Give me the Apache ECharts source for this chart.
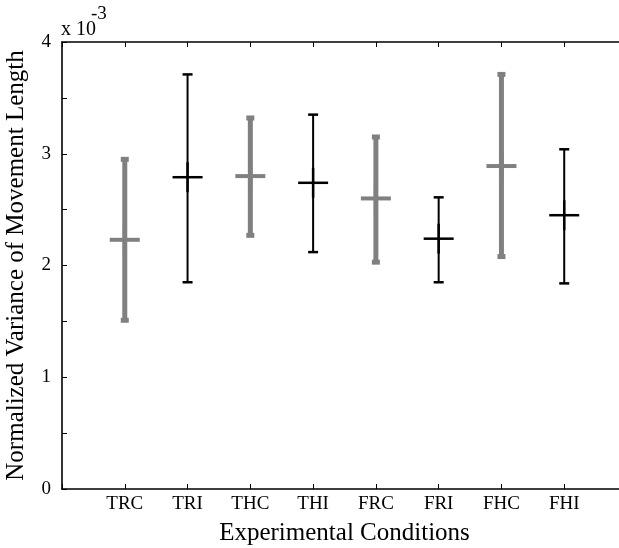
<!DOCTYPE html>
<html><head><meta charset="utf-8">
<script src="https://cdn.jsdelivr.net/npm/echarts@6/dist/echarts.min.js"></script>
<style>html,body{margin:0;padding:0;background:#fff}#c{width:619px;height:548px}</style>
</head><body><div id="c"></div>
<script>
var categories = ['TRC','TRI','THC','THI','FRC','FRI','FHC','FHI'];
var means = [2.23, 2.79, 2.80, 2.74, 2.60, 2.24, 2.89, 2.45];
var upper = [2.95, 3.71, 3.32, 3.35, 3.15, 2.61, 3.71, 3.04];
var lower = [1.51, 1.85, 2.27, 2.12, 2.03, 1.85, 2.08, 1.84];
var yTicks = [0, 1, 2, 3, 4];

var grayData = [], blackData = [];
categories.forEach(function(c, i){
  var row = [i + 1, means[i], lower[i], upper[i]];
  if (c.charAt(c.length - 1) === 'C') grayData.push(row); else blackData.push(row);
});

function makeRender(color, w, capHalf, capW, plusHalf, plusW){
  return function(params, api){
    var x = api.value(0);
    var pm = api.coord([x, api.value(1)]);
    var pl = api.coord([x, api.value(2)]);
    var ph = api.coord([x, api.value(3)]);
    return {type: 'group', children: [
      {type:'line', shape:{x1:pl[0], y1:pl[1], x2:ph[0], y2:ph[1]}, style:{stroke:color, lineWidth:w}},
      {type:'line', shape:{x1:pl[0]-capHalf, y1:pl[1], x2:pl[0]+capHalf, y2:pl[1]}, style:{stroke:color, lineWidth:capW}},
      {type:'line', shape:{x1:ph[0]-capHalf, y1:ph[1], x2:ph[0]+capHalf, y2:ph[1]}, style:{stroke:color, lineWidth:capW}},
      {type:'line', shape:{x1:pm[0]-plusHalf, y1:pm[1], x2:pm[0]+plusHalf, y2:pm[1]}, style:{stroke:color, lineWidth:plusW}},
      {type:'line', shape:{x1:pm[0], y1:pm[1]-plusHalf, x2:pm[0], y2:pm[1]+plusHalf}, style:{stroke:color, lineWidth:plusW}}
    ]};
  };
}

var font = 'Liberation Serif';
var chart = echarts.init(document.getElementById('c'), null, {renderer:'canvas'});
function axisCommon(){
  return {
    axisLine:{show:true, onZero:false, lineStyle:{color:'#000', width:1.6}},
    axisTick:{show:true, inside:true, length:5, lineStyle:{color:'#000', width:1}},
    splitLine:{show:false}
  };
}
chart.setOption({
  animation:false,
  backgroundColor:'#fff',
  grid:{left:62, top:42, right:-8, bottom:59, containLabel:false, outerBoundsMode:'none'},
  xAxis:[
    Object.assign({type:'value', min:0, max:9, interval:1, position:'bottom',
      axisLabel:{color:'#000', fontFamily:font, fontSize:19, margin:6,
        formatter:function(v){ return categories[v-1] || ''; }},
      name:'Experimental Conditions', nameLocation:'middle', nameGap:32,
      nameTextStyle:{color:'#000', fontFamily:font, fontSize:25}}, axisCommon()),
    Object.assign({type:'value', min:0, max:9, interval:1, position:'top',
      axisLabel:{show:false}}, axisCommon())
  ],
  yAxis:[
    Object.assign({type:'value', min:0, max:4, interval:0.5, position:'left',
      axisLabel:{color:'#000', fontFamily:font, fontSize:19, margin:11,
        formatter:function(v){ return yTicks.indexOf(v) >= 0 ? String(v) : ''; }},
      name:'Normalized Variance of Movement Length', nameLocation:'middle', nameGap:33,
      nameTextStyle:{color:'#000', fontFamily:font, fontSize:25}}, axisCommon())
  ],
  graphic:[
    {type:'text', left:61, top:20, style:{text:'x 10', fill:'#000', font:'20px "Liberation Serif"'}},
    {type:'text', left:91, top:5, style:{text:'-3', fill:'#000', font:'19px "Liberation Serif"'}}
  ],
  series:[
    {type:'custom', name:'gray', data:grayData, encode:{x:0, y:[1,2,3]},
      renderItem: makeRender('#808080', 5, 4, 5, 15, 4), z:2},
    {type:'custom', name:'black', data:blackData, encode:{x:0, y:[1,2,3]},
      renderItem: makeRender('#000000', 2, 5, 2.5, 15, 2.5), z:3}
  ]
});
</script></body></html>
